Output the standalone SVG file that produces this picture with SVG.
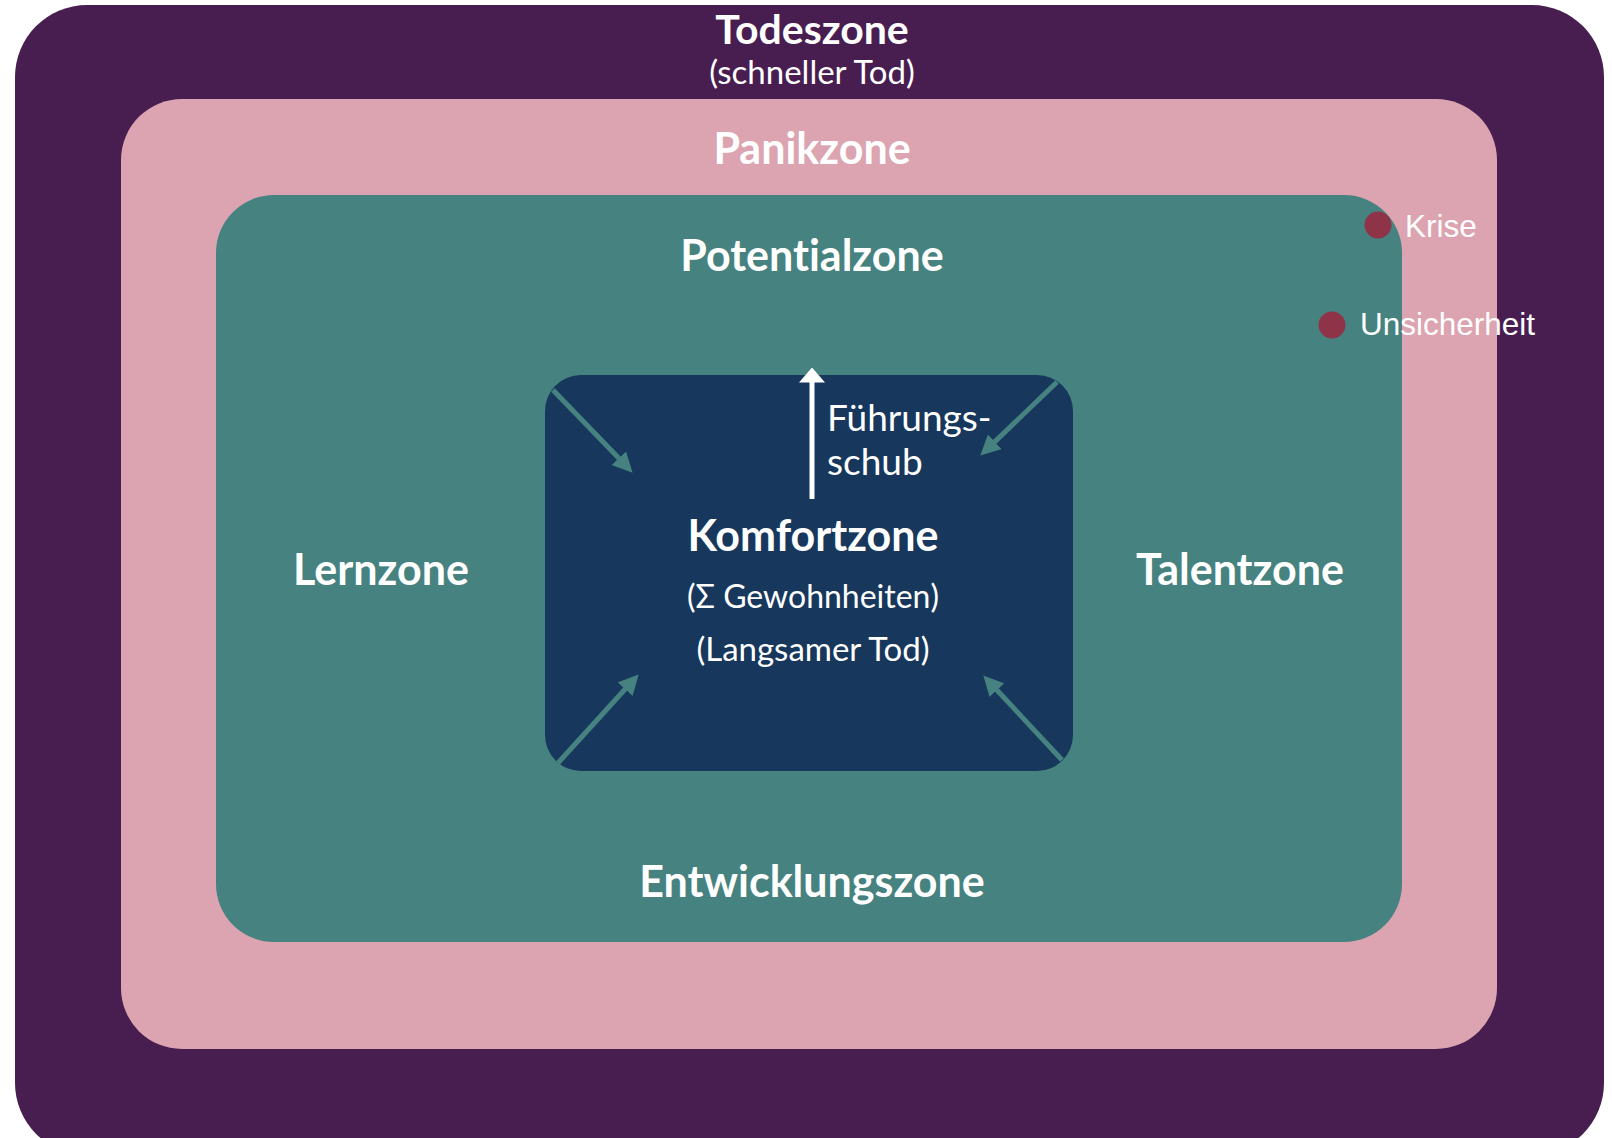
<svg xmlns="http://www.w3.org/2000/svg" width="1612" height="1138" viewBox="0 0 1612 1138">
<style>
.b{font-family:Lato,"Noto Sans",sans-serif;font-weight:bold;font-size:43px;fill:#fff;text-anchor:middle;font-variant-ligatures:none}
.r{font-family:Lato,"Noto Sans",sans-serif;font-size:33px;fill:#fff;text-anchor:middle;font-variant-ligatures:none}
.a{font-family:"Liberation Sans",Arial,sans-serif;font-size:31.5px;fill:#fff}
.ta{stroke:#468280;stroke-width:5;fill:none}
</style>
<defs>
<marker id="th" viewBox="0 0 20 20" refX="0.5" refY="10" markerWidth="20" markerHeight="20" orient="auto" markerUnits="userSpaceOnUse">
<path d="M0,0 L20,10 L0,20 Z" fill="#468280"/>
</marker>
<marker id="wh" viewBox="0 0 15 26" refX="0.5" refY="13" markerWidth="15" markerHeight="26" orient="auto" markerUnits="userSpaceOnUse">
<path d="M0,0 L15,13 L0,26 Z" fill="#fff"/>
</marker>
</defs>
<rect width="1612" height="1138" fill="#fff"/>
<g id="todeszone">
<rect x="15" y="5" width="1589" height="1150" rx="72" fill="#481E51"/>
<text class="b" x="812" y="44" style="font-size:41px">Todeszone</text>
<text class="r" x="812" y="84">(schneller Tod)</text>
</g>
<g id="panikzone">
<rect x="121" y="99" width="1376" height="950" rx="61" fill="#DBA4B0"/>
<text class="b" x="812" y="164">Panikzone</text>
</g>
<g id="potentialzone">
<rect x="216" y="195" width="1186" height="747" rx="58" fill="#468280"/>
<text class="b" x="812" y="271">Potentialzone</text>
<text class="b" x="381" y="585">Lernzone</text>
<text class="b" x="1240" y="585">Talentzone</text>
<text class="b" x="812" y="897">Entwicklungszone</text>
</g>
<g id="komfortzone">
<rect x="545" y="375" width="528" height="396" rx="36" fill="#17385C"/>
<text class="b" x="813" y="551">Komfortzone</text>
<text class="r" x="813" y="608" style="font-size:32px">(Σ Gewohnheiten)</text>
<text class="r" x="813" y="661">(Langsamer Tod)</text>
<text class="r" x="827" y="431" style="text-anchor:start;font-size:37px">Führungs-</text>
<text class="r" x="827" y="475" style="text-anchor:start;font-size:37px">schub</text>
</g>
<g id="krise">
<circle cx="1378" cy="225" r="13.5" fill="#8E3348"/>
<text class="a" x="1405" y="237">Krise</text>
</g>
<g id="unsicherheit">
<circle cx="1332" cy="325" r="13.5" fill="#8E3348"/>
<text class="a" x="1360" y="335">Unsicherheit</text>
</g>
<g id="connectors">
<line x1="812" y1="499" x2="812" y2="382" stroke="#fff" stroke-width="5" marker-end="url(#wh)"/>
<line class="ta" x1="553" y1="390" x2="619.1" y2="458.6" marker-end="url(#th)"/>
<line class="ta" x1="1057" y1="382" x2="994.4" y2="442.1" marker-end="url(#th)"/>
<line class="ta" x1="1062" y1="760" x2="996.6" y2="689.7" marker-end="url(#th)"/>
<line class="ta" x1="558" y1="763" x2="625.5" y2="688.8" marker-end="url(#th)"/>
</g>
</svg>
